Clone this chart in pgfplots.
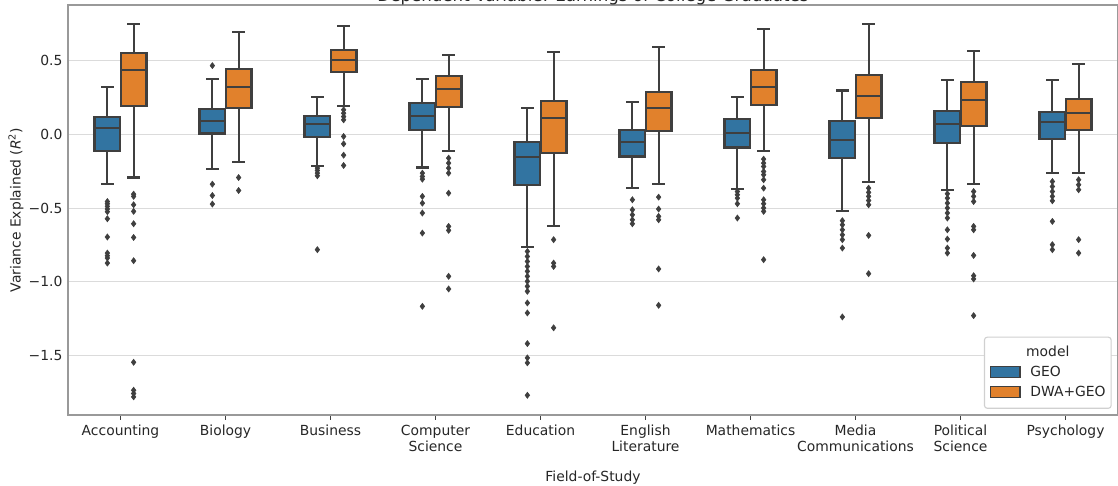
\documentclass[border=0pt]{standalone}
\usepackage{pgfplots}
\pgfplotsset{compat=1.18}
\usepgfplotslibrary{statistics}
\usepackage{fontspec}
\setmainfont{DejaVu Sans}
\definecolor{geo}{HTML}{3274A1}
\definecolor{dwa}{HTML}{E1812C}
\definecolor{edge}{HTML}{3F3F3F}
\definecolor{spine}{HTML}{999999}
\definecolor{legframe}{HTML}{D0D0D0}
\pgfplotsset{bxs/.style={draw=edge, line width=1.5pt, mark=diamond*, mark size=2.2pt,
  mark options={fill=edge, draw=edge, line width=0.4pt, solid},
  boxplot/draw direction=y,
  boxplot/box extend=0.245, boxplot/whisker extend=0.12}}
% pos, lw, q1, med, q3, uw, colour, outliers
\newcommand{\bx}[8]{\addplot[bxs, fill=#7, boxplot prepared={draw position=#1, lower whisker=#2,
  lower quartile=#3, median=#4, upper quartile=#5, upper whisker=#6}]
  table[row sep=\\, y index=0] {data\\ #8};}
\newcommand{\patch}[1]{{\setlength{\fboxsep}{0pt}\setlength{\fboxrule}{1pt}\fcolorbox{edge}{#1}{\rule{0pt}{7pt}\hspace{20pt}}}}
\begin{document}
\begin{tikzpicture}
\begin{axis}[name=ax,
  scale only axis, width=756pt, height=295.2pt,
  xmin=-0.5, xmax=9.5, ymin=-1.905, ymax=0.88,
  xtick={0,...,9},
  xticklabels={Accounting, Biology, Business, {Computer\\Science}, Education, {English\\Literature}, Mathematics, {Media\\Communications}, {Political\\Science}, Psychology},
  ytick={-1.5,-1,-0.5,0,0.5},
  yticklabels={−1.5,−1.0,−0.5,0.0,0.5},
  axis line style={spine, line width=0.8pt},
  ymajorgrids, grid style={gray!28, line width=0.8pt},
  tick pos=left, tick align=outside, major tick length=3.5pt,
  xtick style={edge, line width=0.8pt}, ytick style={draw=none},
  tick label style={font=\fontsize{10}{11.5}\selectfont, text=black!85},
  x tick label style={align=center},
  y tick label style={xshift=3pt},
  xlabel={Field-of-Study}, ylabel={Variance Explained (\textit{R}\textsuperscript{2})},
  label style={font=\fontsize{10}{12}\selectfont, text=black!85},
  xlabel style={at={(axis description cs:0.5,-0.1525)}, anchor=center},
  ylabel style={at={(axis description cs:-0.0495,0.5)}, anchor=center},
]
\bx{-0.125}{-0.337}{-0.113}{0.043}{0.122}{0.326}{geo}{-0.455\\-0.47\\-0.488\\-0.506\\-0.524\\-0.572\\-0.696\\-0.805\\-0.823\\-0.839\\-0.873\\}
\bx{0.125}{-0.292}{0.195}{0.439}{0.556}{0.751}{dwa}{-0.405\\-0.42\\-0.477\\-0.522\\-0.606\\-0.699\\-0.857\\-1.547\\-1.737\\-1.759\\-1.782\\}
\bx{0.875}{-0.235}{0.007}{0.095}{0.176}{0.38}{geo}{0.468\\-0.337\\-0.414\\-0.472\\}
\bx{1.125}{-0.187}{0.179}{0.326}{0.444}{0.699}{dwa}{-0.292\\-0.38\\}
\bx{1.875}{-0.212}{-0.016}{0.073}{0.127}{0.258}{geo}{-0.228\\-0.244\\-0.262\\-0.28\\-0.782\\}
\bx{2.125}{0.197}{0.427}{0.505}{0.575}{0.735}{dwa}{0.168\\0.145\\0.122\\0.1\\-0.013\\-0.063\\-0.14\\-0.21\\}
\bx{2.875}{-0.224}{0.032}{0.129}{0.213}{0.38}{geo}{-0.262\\-0.285\\-0.303\\-0.42\\-0.466\\-0.533\\-0.669\\-1.167\\}
\bx{3.125}{-0.111}{0.188}{0.31}{0.398}{0.539}{dwa}{-0.16\\-0.194\\-0.228\\-0.262\\-0.398\\-0.624\\-0.651\\-0.963\\-1.049\\}
\bx{3.875}{-0.762}{-0.343}{-0.153}{-0.05}{0.181}{geo}{-0.794\\-0.828\\-0.862\\-0.896\\-0.929\\-0.963\\-0.997\\-1.031\\-1.065\\-1.144\\-1.212\\-1.42\\-1.517\\-1.551\\-1.771\\}
\bx{4.125}{-0.619}{-0.126}{0.113}{0.227}{0.561}{dwa}{-0.714\\-0.873\\-0.896\\-1.313\\}
\bx{4.875}{-0.364}{-0.149}{-0.05}{0.03}{0.22}{geo}{-0.443\\-0.511\\-0.545\\-0.579\\-0.606\\}
\bx{5.125}{-0.337}{0.025}{0.183}{0.292}{0.595}{dwa}{-0.425\\-0.506\\-0.556\\-0.579\\-0.913\\-1.16\\}
\bx{5.875}{-0.368}{-0.088}{0.012}{0.104}{0.254}{geo}{-0.387\\-0.409\\-0.432\\-0.47\\-0.567\\}
\bx{6.125}{-0.109}{0.199}{0.324}{0.439}{0.717}{dwa}{-0.167\\-0.194\\-0.217\\-0.251\\-0.273\\-0.307\\-0.364\\-0.443\\-0.47\\-0.499\\-0.522\\-0.85\\}
\bx{6.875}{-0.518}{-0.16}{-0.038}{0.091}{0.299}{geo}{-0.585\\-0.613\\-0.647\\-0.681\\-0.714\\-0.771\\-1.239\\}
\bx{7.125}{-0.321}{0.113}{0.263}{0.403}{0.749}{dwa}{-0.364\\-0.393\\-0.42\\-0.448\\-0.477\\-0.685\\-0.945\\}
\bx{7.875}{-0.377}{-0.058}{0.073}{0.159}{0.369}{geo}{-0.402\\-0.432\\-0.466\\-0.499\\-0.533\\-0.567\\-0.647\\-0.71\\-0.771\\-0.805\\}
\bx{8.125}{-0.334}{0.059}{0.237}{0.355}{0.57}{dwa}{-0.387\\-0.42\\-0.455\\-0.624\\-0.647\\-0.821\\-0.959\\-0.981\\-1.23\\}
\bx{8.875}{-0.262}{-0.031}{0.084}{0.152}{0.369}{geo}{-0.319\\-0.353\\-0.387\\-0.42\\-0.45\\-0.59\\-0.748\\-0.782\\}
\bx{9.125}{-0.26}{0.032}{0.149}{0.242}{0.478}{dwa}{-0.307\\-0.341\\-0.375\\-0.714\\-0.805\\}
\node[draw=legframe, line width=0.8pt, rounded corners=2pt, fill=white, anchor=south east, inner sep=4pt,
  font=\fontsize{10}{12}\selectfont, text=black!85] at (rel axis cs:0.994,0.015)
  {\renewcommand{\arraystretch}{1.2}\begin{tabular}{@{}l@{\hspace{7pt}}l@{}}\multicolumn{2}{c}{model}\\ \patch{geo} & GEO\\ \patch{dwa} & DWA+GEO\end{tabular}};
\end{axis}
\node[anchor=base, font=\fontsize{12}{14}\selectfont, text=black!85] at ([yshift=2.2pt]ax.north) {Dependent Variable: Earnings of College Graduates};
\pgfresetboundingbox
\useasboundingbox (-48.96pt,-51.12pt) rectangle (756pt,298.8pt);
\end{tikzpicture}
\end{document}
